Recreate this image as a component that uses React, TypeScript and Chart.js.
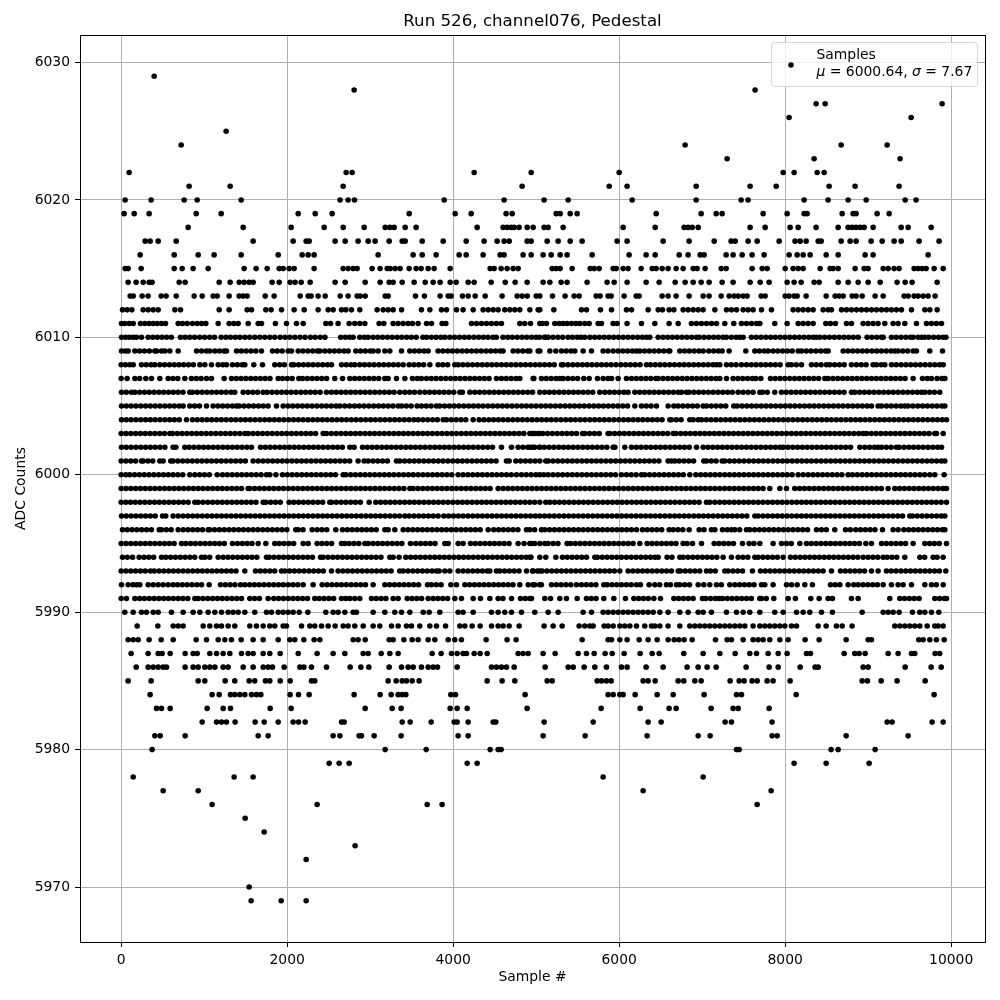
import React, { useEffect, useRef } from "react";
import { Chart, registerables } from "chart.js";

Chart.register(...registerables);

const chartTitle = "Run 526, channel076, Pedestal";
const xAxisTitle = "Sample #";
const yAxisTitle = "ADC Counts";
const legendLine1 = "Samples";
const xTicks = [0, 2000, 4000, 6000, 8000, 10000];
const yTicks = [5970, 5980, 5990, 6000, 6010, 6020, 6030];

const s6029 = [398];
const s6028 = [2807, 7638];
const s6027 = [8373, 8482, 9891];
const s6026 = [8048, 9518];
const s6025 = [1265];
const s6024 = [723, 6795, 8675, 9229];
const s6023 = [7301, 8349, 9385];
const s6022 = [96, 2711, 2783, 4253, 4940, 6000, 7976, 8108, 8386, 8470];
const s6021 = [819, 1313, 2675, 4831, 5880, 6096, 6928, 7578, 7892, 8530, 8843, 9373];
const s6020 = [48, 361, 759, 916, 1446, 2638, 2735, 2811, 3892, 4614, 5096, 5386, 6157, 6928, 7470, 7554, 8229, 8518, 8759, 8976, 9446, 9578];
const s6019 = [36, 157, 337, 904, 1205, 2133, 2338, 2542, 3470, 4024, 4217, 4638, 4711, 5241, 5289, 5410, 5494, 6446, 6988, 7169, 7241, 7735, 8024, 8229, 8265, 8687, 8819, 8855, 9108, 9253];
const s6018 = [807, 1470, 2048, 2446, 2675, 2928, 3181, 3237, 3289, 3422, 3554, 4289, 4602, 4650, 4699, 4735, 4795, 4892, 4964, 5096, 5145, 5325, 6048, 6434, 6783, 6831, 6880, 6952, 7578, 7759, 8060, 8157, 8373, 8639, 8759, 8807, 8855, 8904, 8952, 9060, 9398, 9482, 9759];
const s6017 = [289, 349, 446, 663, 1590, 2072, 2229, 2265, 2578, 2699, 2855, 2976, 3060, 3229, 3386, 3422, 3627, 3880, 4157, 4373, 4530, 4614, 4675, 4892, 4940, 5133, 5265, 5410, 5554, 5976, 6096, 6530, 6843, 7145, 7349, 7398, 7554, 7663, 7928, 8120, 8181, 8253, 8398, 8434, 8675, 8783, 8855, 9036, 9169, 9313, 9398, 9614, 9855];
const s6016 = [229, 639, 928, 1120, 1446, 1892, 2181, 2253, 2325, 3096, 3518, 3627, 3795, 4072, 4157, 4361, 4566, 4614, 4843, 4940, 5084, 5181, 5289, 5373, 5675, 6120, 6325, 6434, 6723, 6831, 6976, 7024, 7289, 7373, 7482, 7602, 7747, 8048, 8145, 8217, 8301, 8494, 8639, 8964, 9060, 9723];
const s6015 = [48, 84, 241, 639, 735, 867, 1048, 1482, 1626, 1759, 1904, 1952, 2024, 2084, 2325, 2675, 2735, 2795, 2843, 3024, 3120, 3205, 3241, 3301, 3361, 3470, 3554, 3614, 3699, 3771, 3964, 4446, 4494, 4578, 4650, 4723, 4783, 5193, 5241, 5289, 5434, 5651, 5699, 5759, 5928, 5964, 6048, 6108, 6265, 6398, 6446, 6518, 6590, 6687, 6771, 6892, 6940, 7036, 7229, 7289, 7602, 7723, 7783, 8000, 8096, 8157, 8217, 8422, 8542, 8578, 8639, 8843, 8952, 9000, 9181, 9241, 9313, 9373, 9554, 9602, 9651, 9699, 9795, 9904];
const s6014 = [84, 180, 265, 337, 373, 699, 771, 1181, 1313, 1422, 1482, 1542, 1590, 1819, 1904, 2036, 2096, 2169, 2277, 2578, 2699, 2940, 3120, 3229, 3277, 3386, 3530, 3663, 3759, 3843, 3964, 4036, 4181, 4253, 4458, 4627, 4747, 4892, 5084, 5165, 5301, 5373, 5614, 5855, 5940, 6096, 6325, 6482, 6675, 6795, 6892, 6988, 7084, 7241, 7373, 7578, 7699, 7807, 8024, 8108, 8193, 8349, 8410, 8639, 8759, 8880, 9000, 9145, 9349, 9446, 9530, 9831];
const s6013 = [108, 145, 253, 325, 482, 542, 663, 880, 976, 1108, 1157, 1301, 1422, 1470, 1518, 1735, 1843, 2157, 2253, 2289, 2373, 2458, 2639, 2735, 2843, 2880, 2940, 3181, 3217, 3546, 3654, 3843, 3940, 3976, 4112, 4181, 4265, 4386, 4590, 4771, 4831, 4892, 5000, 5044, 5197, 5349, 5458, 5518, 5723, 5771, 5867, 5904, 6060, 6205, 6241, 6518, 6590, 6687, 6843, 7012, 7084, 7229, 7325, 7386, 7434, 7494, 7542, 7711, 7759, 8000, 8048, 8108, 8145, 8253, 8494, 8602, 8651, 8699, 8807, 8855, 8928, 9084, 9181, 9434, 9482, 9554, 9602, 9663, 9723, 9807];
const s6012 = [16, 72, 129, 265, 325, 386, 446, 647, 715, 1181, 1301, 1518, 1570, 1743, 1807, 1932, 2084, 2205, 2373, 2494, 2554, 2655, 2707, 2775, 2875, 3084, 3157, 3217, 3277, 3378, 3618, 3719, 3859, 3920, 4040, 4120, 4241, 4361, 4422, 4482, 4542, 4622, 4683, 4743, 4803, 4924, 5024, 5044, 5213, 5546, 5606, 5775, 5908, 6088, 6149, 6349, 6470, 6522, 6602, 6659, 6771, 6831, 6892, 6952, 7012, 7153, 7293, 7353, 7414, 7494, 7554, 7614, 7715, 7835, 8096, 8157, 8217, 8277, 8337, 8458, 8518, 8558, 8679, 8739, 8799, 8860, 8920, 8980, 9040, 9100, 9161, 9221, 9281, 9341, 9402, 9522, 9683, 9743, 9831];
const s6011 = [4, 44, 96, 145, 233, 285, 337, 386, 434, 486, 534, 687, 739, 795, 859, 916, 968, 1020, 1169, 1301, 1357, 1410, 1530, 1651, 1691, 1859, 1992, 2112, 2193, 2466, 2522, 2614, 2747, 2815, 2875, 2936, 3108, 3165, 3277, 3337, 3398, 3458, 3510, 3578, 3679, 3739, 3867, 3912, 4221, 4281, 4341, 4402, 4462, 4522, 4582, 4803, 4863, 4932, 5044, 5076, 5124, 5225, 5277, 5325, 5373, 5426, 5478, 5526, 5586, 5639, 5747, 5787, 5928, 5976, 6096, 6269, 6430, 6602, 6711, 6871, 6932, 6992, 7052, 7112, 7173, 7273, 7381, 7474, 7534, 7594, 7655, 7695, 7875, 8024, 8157, 8217, 8277, 8337, 8490, 8546, 8606, 8739, 8799, 8940, 9000, 9060, 9120, 9201, 9301, 9361, 9442, 9582, 9703, 9763, 9823, 9884];
const s6010 = [4, 52, 98, 145, 185, 245, 325, 381, 437, 492, 548, 605, 715, 771, 826, 884, 945, 1005, 1066, 1125, 1205, 1263, 1318, 1377, 1431, 1490, 1548, 1610, 1670, 1730, 1791, 1850, 1915, 1974, 2032, 2093, 2155, 2215, 2280, 2337, 2398, 2455, 2645, 2700, 2752, 2795, 2875, 2930, 2975, 3035, 3092, 3150, 3209, 3266, 3325, 3381, 3440, 3497, 3555, 3635, 3680, 3738, 3795, 3852, 3900, 3960, 4018, 4077, 4135, 4190, 4250, 4308, 4365, 4420, 4480, 4520, 4600, 4658, 4713, 4772, 4830, 4887, 4945, 5000, 5040, 5098, 5116, 5145, 5203, 5262, 5320, 5385, 5438, 5494, 5540, 5586, 5647, 5705, 5762, 5820, 5878, 5935, 5992, 6049, 6108, 6165, 6224, 6280, 6329, 6369, 6470, 6528, 6585, 6642, 6700, 6758, 6816, 6874, 6932, 6964, 7022, 7080, 7138, 7195, 7252, 7293, 7353, 7410, 7455, 7494, 7594, 7652, 7710, 7768, 7825, 7882, 7940, 7998, 8055, 8113, 8170, 8228, 8285, 8340, 8378, 8418, 8476, 8534, 8592, 8650, 8708, 8765, 8822, 8880, 8988, 9045, 9103, 9160, 9181, 9281, 9338, 9396, 9454, 9510, 9542, 9602, 9643, 9683, 9731, 9790, 9848, 9900, 9936];
const s6009 = [4, 50, 84, 165, 222, 280, 340, 405, 426, 486, 526, 586, 687, 908, 968, 1028, 1068, 1129, 1186, 1240, 1269, 1390, 1448, 1506, 1565, 1623, 1691, 1823, 1880, 1940, 2012, 2052, 2133, 2190, 2250, 2308, 2365, 2394, 2454, 2512, 2570, 2628, 2686, 2735, 2827, 2884, 2942, 3000, 3036, 3096, 3177, 3237, 3378, 3478, 3535, 3593, 3650, 3699, 3819, 3877, 3935, 3992, 4050, 4108, 4165, 4222, 4280, 4338, 4396, 4453, 4510, 4568, 4602, 4723, 4780, 4838, 4896, 4924, 5024, 5044, 5165, 5237, 5305, 5362, 5420, 5466, 5566, 5667, 5807, 5865, 5928, 5988, 6044, 6102, 6160, 6209, 6249, 6306, 6364, 6422, 6480, 6538, 6596, 6610, 6731, 6788, 6846, 6904, 6962, 7012, 7080, 7138, 7195, 7241, 7325, 7526, 7635, 7690, 7748, 7795, 7855, 7912, 7970, 8028, 8085, 8157, 8197, 8255, 8312, 8370, 8428, 8486, 8518, 8699, 8756, 8814, 8872, 8930, 8987, 9045, 9102, 9160, 9218, 9276, 9321, 9361, 9418, 9476, 9542, 9582, 9743, 9896];
const s6008 = [0, 52, 104, 145, 245, 302, 360, 405, 466, 523, 581, 640, 697, 754, 812, 870, 948, 1008, 1088, 1169, 1226, 1269, 1341, 1400, 1458, 1490, 1598, 1703, 1851, 1909, 1966, 2052, 2080, 2138, 2196, 2254, 2312, 2370, 2428, 2486, 2534, 2655, 2712, 2770, 2815, 2875, 2933, 2990, 3048, 3106, 3164, 3222, 3280, 3338, 3398, 3470, 3528, 3586, 3644, 3719, 3819, 3876, 3934, 4020, 4060, 4118, 4176, 4234, 4292, 4350, 4408, 4466, 4524, 4582, 4640, 4698, 4756, 4814, 4872, 4930, 4988, 5044, 5102, 5160, 5218, 5305, 5325, 5383, 5441, 5499, 5557, 5615, 5672, 5730, 5788, 5846, 5904, 5962, 6020, 6078, 6136, 6194, 6252, 6329, 6377, 6435, 6493, 6551, 6609, 6667, 6725, 6783, 6841, 6899, 6957, 7015, 7073, 7131, 7173, 7213, 7293, 7351, 7409, 7474, 7534, 7592, 7650, 7708, 7766, 7824, 7882, 7940, 8036, 8076, 8134, 8197, 8317, 8375, 8433, 8498, 8538, 8596, 8654, 8712, 8799, 8859, 8917, 8975, 9060, 9100, 9158, 9201, 9281, 9339, 9397, 9455, 9513, 9571, 9629, 9687, 9745, 9803, 9861, 9904];
const s6007 = [0, 72, 165, 223, 297, 365, 466, 566, 624, 682, 767, 847, 905, 963, 1028, 1088, 1241, 1329, 1387, 1445, 1503, 1561, 1619, 1677, 1735, 1793, 1892, 1944, 2002, 2060, 2141, 2185, 2243, 2301, 2359, 2417, 2475, 2574, 2667, 2755, 2813, 2871, 2929, 2987, 3045, 3103, 3177, 3217, 3317, 3418, 3510, 3568, 3618, 3679, 3737, 3795, 3853, 3911, 3969, 4027, 4085, 4143, 4201, 4259, 4317, 4375, 4433, 4522, 4582, 4640, 4698, 4756, 4803, 4972, 4964, 5064, 5122, 5180, 5238, 5285, 5325, 5383, 5441, 5499, 5574, 5639, 5739, 5807, 5865, 5908, 5988, 6088, 6149, 6207, 6265, 6323, 6381, 6442, 6470, 6528, 6586, 6644, 6702, 6760, 6818, 6876, 6934, 6992, 7050, 7108, 7166, 7213, 7293, 7373, 7431, 7489, 7547, 7605, 7647, 7707, 7823, 7881, 7939, 7997, 8055, 8113, 8171, 8229, 8287, 8345, 8403, 8478, 8518, 8576, 8634, 8692, 8750, 8808, 8866, 8924, 8982, 9040, 9098, 9156, 9214, 9272, 9330, 9388, 9446, 9542, 9655, 9713, 9763, 9831, 9889, 9924];
const s6006 = [4, 62, 124, 165, 223, 281, 339, 397, 455, 513, 571, 629, 687, 745, 827, 859, 917, 975, 1033, 1091, 1149, 1207, 1265, 1323, 1369, 1470, 1528, 1586, 1644, 1711, 1759, 1817, 1875, 1933, 1991, 2049, 2107, 2165, 2223, 2281, 2339, 2397, 2474, 2534, 2592, 2650, 2708, 2766, 2824, 2882, 2940, 2998, 3056, 3114, 3172, 3230, 3288, 3357, 3418, 3476, 3534, 3598, 3659, 3717, 3775, 3833, 3891, 3949, 4007, 4080, 4112, 4201, 4261, 4319, 4377, 4435, 4493, 4551, 4609, 4667, 4725, 4783, 4841, 4899, 4957, 5044, 5102, 5160, 5218, 5276, 5334, 5392, 5450, 5508, 5566, 5624, 5682, 5767, 5827, 5885, 5943, 6001, 6059, 6108, 6189, 6247, 6305, 6363, 6421, 6479, 6537, 6595, 6653, 6711, 6751, 6811, 6843, 6901, 6959, 7017, 7075, 7133, 7191, 7249, 7307, 7365, 7434, 7494, 7554, 7614, 7695, 7727, 7785, 7875, 7956, 8014, 8072, 8130, 8188, 8246, 8304, 8362, 8420, 8478, 8536, 8594, 8652, 8710, 8799, 8839, 8897, 8955, 9013, 9071, 9129, 9187, 9245, 9303, 9361, 9419, 9477, 9535, 9593, 9643, 9683, 9741, 9799, 9863];
const s6005 = [4, 62, 120, 178, 236, 294, 352, 410, 468, 526, 584, 642, 700, 747, 827, 885, 943, 1028, 1108, 1166, 1224, 1282, 1340, 1390, 1422, 1480, 1538, 1596, 1654, 1712, 1770, 1871, 1952, 2010, 2068, 2126, 2184, 2242, 2300, 2358, 2416, 2474, 2532, 2590, 2634, 2695, 2753, 2811, 2869, 2927, 2985, 3043, 3101, 3159, 3217, 3275, 3337, 3378, 3436, 3494, 3566, 3618, 3676, 3734, 3799, 3839, 3897, 3955, 4013, 4071, 4129, 4187, 4245, 4303, 4361, 4419, 4477, 4535, 4593, 4651, 4709, 4767, 4825, 4883, 4941, 4999, 5057, 5115, 5173, 5231, 5289, 5347, 5405, 5463, 5521, 5579, 5637, 5695, 5753, 5811, 5869, 5927, 5985, 6043, 6101, 6189, 6269, 6327, 6385, 6450, 6590, 6659, 6711, 6769, 6827, 6885, 6943, 7012, 7052, 7110, 7168, 7226, 7284, 7381, 7422, 7480, 7538, 7596, 7654, 7712, 7770, 7828, 7886, 7944, 8002, 8060, 8118, 8176, 8234, 8292, 8350, 8408, 8466, 8524, 8582, 8640, 8698, 8756, 8814, 8872, 8930, 8988, 9040, 9120, 9161, 9221, 9279, 9337, 9395, 9442, 9482, 9540, 9598, 9656, 9714, 9772, 9830, 9888, 9924];
const s6004 = [4, 62, 120, 178, 236, 294, 352, 410, 468, 526, 584, 642, 700, 787, 859, 917, 975, 1033, 1091, 1149, 1207, 1265, 1323, 1381, 1439, 1497, 1555, 1613, 1671, 1729, 1787, 1845, 1903, 1961, 2019, 2077, 2135, 2193, 2251, 2309, 2367, 2425, 2483, 2541, 2599, 2657, 2715, 2773, 2831, 2889, 2947, 3005, 3063, 3121, 3179, 3237, 3295, 3353, 3411, 3469, 3527, 3578, 3636, 3694, 3752, 3810, 3880, 3920, 3978, 4036, 4094, 4152, 4241, 4313, 4371, 4429, 4487, 4545, 4603, 4661, 4719, 4777, 4835, 4893, 4951, 5009, 5067, 5125, 5183, 5241, 5299, 5357, 5415, 5473, 5531, 5589, 5647, 5705, 5763, 5821, 5879, 5937, 5995, 6053, 6111, 6169, 6227, 6285, 6343, 6401, 6459, 6517, 6610, 6631, 6689, 6747, 6851, 6892, 6952, 6992, 7050, 7108, 7166, 7224, 7282, 7340, 7398, 7456, 7514, 7572, 7630, 7688, 7746, 7804, 7862, 7920, 7978, 8036, 8094, 8152, 8210, 8268, 8326, 8384, 8442, 8500, 8558, 8616, 8674, 8732, 8790, 8848, 8906, 8964, 9022, 9080, 9138, 9196, 9254, 9312, 9370, 9428, 9486, 9544, 9602, 9660, 9718, 9776, 9834, 9892, 9944];
const s6003 = [0, 58, 116, 174, 232, 290, 348, 406, 464, 522, 586, 618, 676, 734, 792, 850, 908, 966, 1024, 1082, 1140, 1198, 1256, 1314, 1372, 1430, 1490, 1530, 1588, 1646, 1704, 1762, 1820, 1878, 1936, 1994, 2052, 2110, 2168, 2226, 2284, 2342, 2434, 2474, 2532, 2590, 2648, 2706, 2764, 2822, 2880, 2938, 2996, 3054, 3112, 3170, 3228, 3286, 3344, 3402, 3460, 3518, 3576, 3634, 3692, 3750, 3808, 3866, 3924, 3982, 4040, 4098, 4156, 4214, 4272, 4330, 4388, 4446, 4504, 4562, 4620, 4678, 4736, 4794, 4852, 4944, 4984, 5044, 4924, 4964, 5022, 5080, 5138, 5196, 5254, 5312, 5370, 5428, 5486, 5558, 5586, 5644, 5702, 5760, 5867, 5888, 5946, 6004, 6062, 6120, 6178, 6236, 6294, 6352, 6410, 6468, 6526, 6584, 6651, 6683, 6741, 6799, 6857, 6915, 6973, 7031, 7089, 7147, 7205, 7263, 7321, 7379, 7437, 7495, 7553, 7611, 7669, 7727, 7785, 7843, 7901, 7959, 8017, 8075, 8133, 8191, 8249, 8307, 8365, 8423, 8481, 8539, 8597, 8655, 8713, 8771, 8829, 8887, 8940, 8980, 9038, 9096, 9154, 9212, 9270, 9328, 9386, 9444, 9502, 9560, 9618, 9676, 9734, 9803, 9823, 9904];
const s6002 = [4, 62, 120, 178, 236, 294, 352, 410, 468, 526, 626, 659, 767, 819, 877, 935, 993, 1051, 1109, 1167, 1225, 1283, 1341, 1399, 1457, 1515, 1570, 1679, 1737, 1795, 1853, 1911, 1969, 2027, 2085, 2143, 2201, 2259, 2317, 2375, 2433, 2491, 2549, 2607, 2665, 2755, 2807, 2908, 2966, 3024, 3082, 3140, 3198, 3256, 3314, 3372, 3430, 3488, 3546, 3604, 3662, 3720, 3778, 3836, 3894, 3952, 4010, 4068, 4126, 4184, 4242, 4300, 4358, 4416, 4474, 4582, 4703, 4783, 4841, 4899, 4957, 5044, 4924, 4982, 5040, 5098, 5156, 5214, 5272, 5330, 5388, 5446, 5504, 5562, 5620, 5678, 5736, 5794, 5852, 5928, 5948, 6068, 6149, 6207, 6265, 6323, 6381, 6439, 6497, 6555, 6613, 6671, 6729, 6787, 6845, 6932, 7012, 7070, 7128, 7186, 7244, 7302, 7360, 7418, 7476, 7534, 7592, 7650, 7708, 7766, 7824, 7882, 7936, 7976, 8034, 8092, 8150, 8208, 8266, 8324, 8382, 8440, 8498, 8556, 8614, 8672, 8730, 8788, 8900, 8960, 9018, 9076, 9120, 9161, 9219, 9277, 9341, 9373, 9431, 9489, 9547, 9605, 9663, 9721, 9779, 9837, 9884];
const s6001 = [0, 58, 116, 174, 245, 265, 323, 381, 466, 506, 598, 626, 684, 742, 800, 858, 916, 974, 1032, 1090, 1148, 1206, 1264, 1322, 1380, 1438, 1496, 1590, 1651, 1709, 1767, 1825, 1883, 1941, 1999, 2057, 2115, 2173, 2231, 2289, 2347, 2405, 2463, 2521, 2579, 2637, 2695, 2753, 2855, 2928, 2976, 3034, 3092, 3150, 3208, 3317, 3357, 3415, 3473, 3531, 3589, 3647, 3705, 3763, 3821, 3879, 3937, 3995, 4053, 4111, 4169, 4227, 4285, 4343, 4401, 4459, 4517, 4642, 4675, 4755, 4813, 4871, 4929, 4987, 5044, 5116, 5145, 5203, 5261, 5319, 5377, 5435, 5493, 5551, 5609, 5667, 5725, 5783, 5841, 5899, 5957, 6015, 6073, 6131, 6189, 6247, 6305, 6363, 6421, 6479, 6590, 6631, 6671, 6723, 6781, 6839, 6897, 7020, 7052, 7110, 7168, 7241, 7273, 7331, 7389, 7447, 7505, 7563, 7621, 7679, 7737, 7795, 7853, 7911, 7969, 8027, 8085, 8143, 8201, 8259, 8317, 8375, 8433, 8491, 8549, 8607, 8665, 8723, 8781, 8839, 8897, 8955, 9013, 9071, 9129, 9187, 9245, 9303, 9361, 9419, 9477, 9535, 9593, 9651, 9709, 9767, 9825, 9883, 9924];
const s6000 = [0, 56, 104, 162, 220, 278, 336, 394, 452, 510, 568, 626, 684, 742, 827, 888, 946, 1004, 1062, 1157, 1221, 1279, 1337, 1395, 1453, 1511, 1569, 1627, 1685, 1751, 1791, 1864, 1944, 2002, 2060, 2118, 2176, 2234, 2292, 2350, 2408, 2466, 2524, 2582, 2675, 2707, 2765, 2823, 2881, 2939, 2997, 3055, 3113, 3171, 3229, 3287, 3345, 3403, 3461, 3519, 3577, 3635, 3693, 3751, 3809, 3867, 3925, 3983, 4060, 4120, 4178, 4236, 4294, 4352, 4410, 4468, 4526, 4584, 4642, 4700, 4763, 4823, 4881, 4939, 4997, 5044, 5092, 5145, 5203, 5261, 5319, 5377, 5435, 5493, 5551, 5609, 5667, 5725, 5783, 5841, 5899, 5957, 6028, 6088, 6146, 6204, 6269, 6309, 6367, 6425, 6483, 6541, 6599, 6657, 6715, 6773, 6851, 6924, 6982, 7040, 7098, 7156, 7214, 7272, 7330, 7388, 7446, 7504, 7562, 7620, 7678, 7736, 7794, 7852, 7910, 7968, 8026, 8084, 8157, 8217, 8277, 8335, 8393, 8451, 8509, 8567, 8625, 8683, 8759, 8811, 8869, 8927, 8985, 9043, 9101, 9159, 9217, 9275, 9333, 9391, 9449, 9507, 9565, 9623, 9681, 9743, 9803, 9916];
const s5999 = [0, 58, 116, 174, 232, 290, 348, 406, 464, 522, 580, 638, 696, 754, 812, 870, 928, 986, 1044, 1102, 1160, 1218, 1276, 1334, 1392, 1450, 1530, 1550, 1608, 1666, 1724, 1782, 1840, 1898, 1956, 2014, 2072, 2130, 2188, 2246, 2304, 2362, 2420, 2478, 2536, 2594, 2652, 2710, 2768, 2826, 2884, 2942, 3000, 3058, 3116, 3174, 3232, 3290, 3348, 3406, 3478, 3518, 3576, 3634, 3692, 3750, 3808, 3866, 3924, 3982, 4040, 4098, 4156, 4214, 4272, 4330, 4388, 4446, 4542, 4602, 4660, 4718, 4776, 4834, 4892, 4950, 5008, 5066, 5124, 5182, 5240, 5298, 5356, 5414, 5472, 5530, 5588, 5646, 5704, 5762, 5820, 5878, 5936, 5994, 6052, 6110, 6168, 6226, 6284, 6342, 6400, 6458, 6516, 6574, 6632, 6690, 6748, 6806, 6864, 6922, 6980, 7038, 7096, 7154, 7212, 7270, 7328, 7386, 7444, 7502, 7560, 7618, 7676, 7734, 7815, 7936, 8016, 8116, 8174, 8232, 8290, 8348, 8406, 8464, 8522, 8580, 8638, 8696, 8754, 8812, 8870, 8928, 8986, 9044, 9102, 9160, 9241, 9321, 9379, 9437, 9495, 9553, 9611, 9669, 9727, 9785, 9843, 9901, 9944];
const s5998 = [0, 56, 112, 170, 228, 286, 344, 402, 460, 518, 576, 634, 692, 750, 808, 888, 928, 986, 1044, 1102, 1160, 1218, 1276, 1334, 1392, 1450, 1508, 1566, 1624, 1711, 1743, 1801, 1859, 1917, 2024, 2080, 2138, 2196, 2254, 2312, 2370, 2428, 2514, 2534, 2592, 2650, 2708, 2766, 2824, 2882, 2988, 3068, 3126, 3184, 3242, 3300, 3358, 3416, 3474, 3532, 3590, 3648, 3706, 3764, 3822, 3880, 3938, 3996, 4054, 4112, 4170, 4228, 4286, 4344, 4402, 4460, 4518, 4576, 4634, 4692, 4750, 4808, 4866, 4924, 4982, 5044, 5116, 5165, 5223, 5281, 5339, 5397, 5455, 5513, 5571, 5629, 5687, 5745, 5803, 5861, 5919, 5977, 6035, 6093, 6151, 6209, 6267, 6325, 6383, 6441, 6499, 6557, 6615, 6673, 6731, 6789, 6847, 6905, 6963, 7052, 7092, 7153, 7211, 7269, 7327, 7385, 7443, 7501, 7559, 7617, 7675, 7733, 7791, 7849, 7907, 7965, 8023, 8081, 8139, 8197, 8255, 8313, 8371, 8429, 8487, 8545, 8603, 8661, 8719, 8777, 8835, 8893, 8951, 9009, 9067, 9125, 9183, 9241, 9299, 9357, 9415, 9473, 9531, 9589, 9647, 9705, 9763, 9821, 9879, 9944];
const s5997 = [4, 62, 120, 178, 236, 294, 352, 410, 498, 538, 626, 687, 745, 803, 861, 919, 977, 1035, 1093, 1151, 1209, 1267, 1325, 1383, 1441, 1499, 1557, 1615, 1673, 1731, 1789, 1847, 1905, 1963, 2021, 2079, 2137, 2195, 2253, 2311, 2369, 2427, 2485, 2543, 2601, 2659, 2717, 2775, 2833, 2891, 2949, 3007, 3065, 3123, 3181, 3239, 3297, 3355, 3418, 3470, 3528, 3586, 3644, 3702, 3760, 3819, 3888, 3946, 4004, 4062, 4120, 4178, 4236, 4294, 4352, 4410, 4468, 4526, 4584, 4642, 4700, 4758, 4816, 4874, 4932, 4990, 5044, 5102, 5160, 5218, 5276, 5334, 5392, 5450, 5508, 5566, 5624, 5682, 5740, 5798, 5856, 5914, 5972, 6030, 6088, 6146, 6204, 6262, 6320, 6378, 6436, 6494, 6552, 6610, 6668, 6726, 6784, 6842, 6900, 6958, 7016, 7074, 7132, 7190, 7248, 7306, 7364, 7422, 7480, 7538, 7635, 7675, 7733, 7791, 7849, 7907, 7965, 8023, 8081, 8139, 8197, 8255, 8313, 8371, 8429, 8487, 8545, 8603, 8661, 8719, 8777, 8835, 8893, 8951, 9009, 9067, 9125, 9183, 9241, 9299, 9357, 9415, 9502, 9534, 9592, 9650, 9708, 9766, 9824, 9882, 9924];
const s5996 = [16, 74, 132, 190, 248, 306, 364, 458, 486, 544, 602, 687, 747, 805, 863, 921, 979, 1048, 1068, 1126, 1184, 1242, 1300, 1358, 1416, 1474, 1532, 1590, 1648, 1706, 1764, 1822, 1880, 1938, 1996, 2104, 2133, 2191, 2301, 2361, 2419, 2477, 2586, 2667, 2725, 2783, 2841, 2899, 2957, 3015, 3073, 3177, 3217, 3297, 3398, 3456, 3514, 3572, 3630, 3688, 3746, 3804, 3862, 3920, 3978, 4036, 4094, 4152, 4210, 4268, 4326, 4422, 4490, 4548, 4606, 4664, 4722, 4780, 4884, 4924, 4982, 5064, 5104, 5162, 5220, 5278, 5336, 5394, 5452, 5510, 5568, 5626, 5684, 5742, 5800, 5858, 5916, 5974, 6032, 6090, 6148, 6209, 6281, 6339, 6397, 6455, 6513, 6602, 6651, 6709, 6767, 6843, 6964, 7022, 7112, 7153, 7245, 7303, 7353, 7394, 7452, 7534, 7574, 7632, 7690, 7748, 7806, 7864, 7922, 7980, 8038, 8096, 8154, 8212, 8270, 8378, 8438, 8496, 8598, 8727, 8785, 8851, 8908, 8966, 9024, 9082, 9173, 9301, 9361, 9430, 9488, 9546, 9604, 9662, 9720, 9778, 9836, 9894, 9924];
const s5995 = [0, 58, 116, 174, 232, 290, 348, 406, 464, 522, 580, 638, 727, 779, 837, 895, 953, 1011, 1069, 1127, 1185, 1243, 1341, 1402, 1460, 1518, 1576, 1651, 1743, 1851, 1904, 1962, 2020, 2078, 2193, 2253, 2361, 2419, 2477, 2535, 2655, 2695, 2747, 2805, 2863, 2936, 2976, 3034, 3092, 3150, 3208, 3266, 3324, 3382, 3486, 3550, 3608, 3666, 3724, 3782, 3900, 3940, 4060, 4120, 4209, 4267, 4325, 4383, 4441, 4499, 4557, 4615, 4673, 4783, 4855, 4944, 5044, 4924, 4982, 5104, 5145, 5205, 5263, 5373, 5414, 5472, 5530, 5588, 5646, 5704, 5762, 5820, 5878, 5936, 5994, 6052, 6110, 6168, 6249, 6337, 6395, 6453, 6511, 6569, 6627, 6685, 6771, 6819, 6884, 6992, 7145, 7203, 7261, 7319, 7377, 7486, 7566, 7624, 7695, 7855, 7956, 8016, 8074, 8177, 8257, 8315, 8373, 8431, 8489, 8547, 8605, 8663, 8721, 8779, 8837, 8895, 8972, 9040, 9161, 9219, 9277, 9335, 9393, 9451, 9542, 9683, 9741, 9799, 9857, 9944];
const s5994 = [16, 74, 137, 217, 275, 333, 391, 486, 538, 596, 654, 712, 770, 828, 886, 968, 1008, 1066, 1169, 1229, 1287, 1345, 1403, 1461, 1519, 1577, 1635, 1751, 1783, 1841, 1899, 1957, 2015, 2073, 2131, 2189, 2247, 2305, 2402, 2434, 2492, 2550, 2608, 2666, 2724, 2782, 2840, 2898, 2956, 3014, 3072, 3130, 3237, 3277, 3349, 3430, 3488, 3546, 3604, 3662, 3720, 3778, 3836, 3894, 3952, 4010, 4068, 4126, 4184, 4242, 4300, 4358, 4416, 4474, 4532, 4590, 4648, 4706, 4764, 4822, 4880, 4938, 5044, 4924, 5116, 5237, 5317, 5375, 5433, 5491, 5549, 5607, 5707, 5739, 5797, 5855, 5913, 5971, 6028, 6088, 6146, 6204, 6262, 6320, 6378, 6430, 6470, 6578, 6636, 6731, 6771, 6829, 6887, 6945, 7003, 7061, 7119, 7177, 7253, 7353, 7434, 7492, 7550, 7635, 7675, 7733, 7791, 7849, 7907, 7976, 8064, 8122, 8180, 8238, 8296, 8354, 8412, 8470, 8528, 8586, 8644, 8702, 8760, 8818, 8876, 8940, 9000, 9058, 9116, 9181, 9229, 9287, 9345, 9442, 9623, 9681, 9783, 9831, 9904];
const s5993 = [0, 58, 116, 174, 232, 290, 353, 398, 456, 514, 572, 630, 688, 746, 804, 862, 920, 978, 1036, 1094, 1152, 1210, 1268, 1326, 1384, 1490, 1618, 1676, 1734, 1792, 1850, 1932, 1972, 2030, 2088, 2146, 2204, 2262, 2320, 2378, 2436, 2534, 2614, 2672, 2730, 2788, 2846, 2904, 2962, 3020, 3078, 3136, 3194, 3252, 3357, 3398, 3456, 3514, 3572, 3630, 3688, 3746, 3799, 3831, 3900, 3960, 4060, 4120, 4178, 4236, 4294, 4352, 4410, 4442, 4522, 4562, 4620, 4678, 4736, 4794, 4884, 4964, 5044, 4956, 5014, 5072, 5130, 5188, 5246, 5304, 5362, 5420, 5478, 5536, 5594, 5652, 5710, 5768, 5826, 5884, 5942, 6008, 6108, 6166, 6224, 6282, 6340, 6398, 6456, 6514, 6572, 6630, 6711, 6739, 6797, 6855, 6913, 6971, 7052, 7100, 7158, 7273, 7313, 7371, 7429, 7487, 7606, 7703, 7761, 7819, 7877, 7935, 7993, 8051, 8109, 8167, 8225, 8283, 8341, 8399, 8457, 8558, 8667, 8725, 8783, 8841, 8899, 8957, 9040, 9120, 9221, 9279, 9337, 9395, 9453, 9511, 9569, 9627, 9685, 9743, 9801, 9859, 9936];
const s5992 = [4, 84, 142, 185, 225, 325, 386, 446, 506, 566, 626, 679, 737, 795, 853, 911, 969, 1060, 1197, 1255, 1313, 1371, 1438, 1490, 1548, 1606, 1664, 1722, 1780, 1838, 1896, 1954, 2012, 2070, 2128, 2193, 2313, 2422, 2480, 2538, 2596, 2654, 2712, 2770, 2828, 2886, 2944, 3036, 3177, 3235, 3293, 3351, 3409, 3467, 3525, 3583, 3691, 3739, 3797, 3855, 3972, 4040, 4141, 4199, 4257, 4315, 4373, 4431, 4489, 4547, 4605, 4663, 4721, 4803, 4904, 4962, 5044, 4984, 5064, 5185, 5243, 5301, 5359, 5417, 5486, 5546, 5604, 5662, 5720, 5815, 5855, 5913, 5971, 6029, 6087, 6145, 6209, 6257, 6361, 6430, 6488, 6570, 6618, 6691, 6731, 6789, 6847, 6952, 7020, 7092, 7173, 7231, 7333, 7394, 7452, 7510, 7568, 7626, 7715, 7755, 7855, 8016, 8076, 8145, 8237, 8329, 8546, 8604, 8659, 8759, 8827, 8880, 8938, 8996, 9054, 9112, 9181, 9281, 9361, 9422, 9522, 9683, 9763, 9821, 9904];
const s5991 = [0, 64, 165, 223, 281, 339, 397, 455, 513, 571, 629, 687, 745, 803, 888, 928, 986, 1044, 1102, 1160, 1218, 1276, 1334, 1392, 1450, 1550, 1608, 1666, 1771, 1839, 1897, 1955, 2013, 2071, 2129, 2187, 2245, 2333, 2386, 2444, 2502, 2560, 2655, 2707, 2755, 2815, 2875, 3016, 3074, 3132, 3190, 3277, 3337, 3446, 3504, 3562, 3620, 3699, 3759, 3817, 3875, 3933, 4020, 4100, 4241, 4329, 4442, 4542, 4600, 4703, 4811, 4869, 4944, 4924, 5104, 5173, 5285, 5365, 5494, 5606, 5664, 5722, 5815, 5936, 6076, 6177, 6235, 6293, 6351, 6418, 6498, 6659, 6717, 6775, 6833, 6891, 7004, 7044, 7102, 7160, 7205, 7245, 7303, 7361, 7419, 7477, 7535, 7593, 7695, 7715, 7773, 7863, 8036, 8124, 8309, 8410, 8518, 8570, 8799, 8880, 9261, 9381, 9439, 9497, 9555, 9614, 9803, 9861, 9919, 9944];
const s5990 = [44, 145, 245, 305, 386, 446, 606, 747, 867, 948, 1048, 1129, 1209, 1289, 1349, 1410, 1490, 1610, 1751, 1811, 1892, 1952, 2012, 2072, 2145, 2249, 2466, 2554, 2614, 2695, 2795, 2835, 3036, 3177, 3297, 3378, 3478, 3639, 3711, 3839, 4060, 4120, 4241, 4462, 4542, 4622, 4703, 4823, 4984, 5145, 5265, 5566, 5667, 5807, 5867, 5928, 5988, 6048, 6108, 6169, 6229, 6289, 6349, 6410, 6490, 6590, 6731, 6831, 6952, 7012, 7112, 7293, 7414, 7494, 7574, 7695, 7875, 7976, 8137, 8217, 8297, 8438, 8570, 8928, 9181, 9241, 9301, 9373, 9534, 9622, 9683, 9763, 9851];
const s5989 = [193, 442, 627, 687, 747, 988, 1068, 1149, 1209, 1289, 1369, 1550, 1630, 1711, 1791, 1851, 1952, 1992, 2173, 2273, 2333, 2414, 2494, 2578, 2675, 2735, 2815, 2916, 3036, 3116, 3257, 3337, 3438, 3498, 3598, 3719, 3799, 3908, 4080, 4141, 4229, 4325, 4462, 4542, 4602, 4675, 4795, 5096, 5205, 5313, 5518, 5586, 5647, 5687, 5819, 5867, 5928, 6008, 6068, 6129, 6209, 6309, 6390, 6430, 6490, 6590, 6731, 6851, 6912, 6972, 7032, 7092, 7153, 7213, 7273, 7333, 7394, 7454, 7514, 7614, 7695, 7755, 7815, 7875, 7936, 7996, 8076, 8137, 8398, 8494, 8618, 8687, 8807, 9321, 9382, 9442, 9502, 9562, 9622, 9711, 9803, 9843, 9904];
const s5988 = [84, 145, 205, 337, 482, 627, 904, 1028, 1169, 1249, 1329, 1446, 1590, 1711, 1892, 2032, 2092, 2201, 2325, 2394, 2795, 2855, 2940, 3229, 3277, 3406, 3506, 3578, 3699, 3779, 3940, 4020, 4100, 4397, 4650, 4759, 5554, 5867, 5908, 6008, 6096, 6241, 6349, 6458, 6590, 6663, 6719, 6783, 6880, 7161, 7301, 7353, 7494, 7614, 7675, 7735, 7815, 7936, 8036, 8241, 8410, 8735, 9000, 9040, 9610, 9663, 9743, 9823, 9916];
const s5987 = [120, 325, 446, 494, 590, 771, 867, 916, 1068, 1149, 1229, 1309, 1450, 1530, 1590, 1711, 1791, 1916, 2133, 2361, 2554, 2695, 2916, 2976, 3133, 3237, 3337, 3747, 3855, 3980, 4048, 4120, 4161, 4253, 4325, 4410, 4783, 4843, 4904, 5084, 5229, 5506, 5606, 5699, 5831, 5916, 6060, 6253, 6398, 6482, 6779, 7012, 7213, 7398, 7574, 7655, 7795, 7916, 8024, 8257, 8305, 8711, 8839, 8892, 8964, 9241, 9361, 9522, 9562, 9807, 9863];
const s5986 = [181, 325, 386, 446, 506, 546, 771, 867, 928, 1008, 1068, 1129, 1229, 1289, 1470, 1590, 1711, 1771, 1823, 1964, 2153, 2201, 2293, 2474, 2759, 2888, 2984, 3229, 3378, 3458, 3518, 3618, 3699, 3759, 3811, 4048, 4462, 4522, 4582, 4642, 4735, 5108, 5386, 5446, 5578, 5707, 5847, 6028, 6096, 6325, 6530, 6819, 6952, 7060, 7169, 7530, 7807, 7916, 8181, 8361, 8398, 8940, 9000, 9446, 9759, 9880];
const s5985 = [84, 361, 928, 1008, 1253, 1369, 1542, 1610, 1739, 1791, 1916, 2036, 2293, 2333, 3217, 3313, 3386, 3438, 3506, 3590, 4410, 4590, 4743, 5133, 5193, 5735, 5787, 5847, 5904, 6289, 6349, 6434, 6711, 6779, 6912, 6988, 7337, 7446, 7506, 7602, 7663, 7783, 7855, 8060, 8928, 8992, 9157, 9349, 9687];
const s5984 = [349, 1096, 1181, 1317, 1369, 1430, 1490, 1570, 1630, 1683, 2036, 2137, 2265, 2807, 3120, 3253, 3337, 3386, 3430, 3972, 4028, 4867, 5867, 5928, 6008, 6048, 6193, 6458, 6651, 7024, 7414, 7474, 8133, 9795];
const s5983 = [426, 486, 590, 1036, 1229, 1317, 1795, 2048, 2940, 3265, 3373, 3964, 4048, 4169, 4891, 5783, 6253, 6602, 6687, 7108, 7373, 7434, 7807];
const s5982 = [976, 1149, 1209, 1269, 1373, 1614, 1723, 1892, 2072, 2137, 2217, 2655, 2687, 3386, 3482, 3735, 4012, 4048, 4181, 4482, 4514, 5096, 5687, 6349, 6506, 7277, 7353, 7843, 9229, 9289, 9771, 9904];
const s5981 = [406, 470, 771, 1651, 1771, 2554, 2635, 2867, 2896, 3048, 3373, 4060, 4181, 5084, 5590, 6337, 6952, 7096, 7843, 7904, 8735, 9482];
const s5980 = [373, 3181, 3675, 4446, 4542, 4578, 7414, 7446, 8554, 8639, 9084];
const s5979 = [2506, 2626, 2747, 4169, 4289, 8108, 8494, 9012];
const s5978 = [145, 1361, 1590, 5807, 7012];
const s5977 = [506, 928, 6289, 7831];
const s5976 = [1096, 2361, 3687, 3867, 7663];
const s5975 = [1494];
const s5974 = [1723];
const s5973 = [2819];
const s5972 = [2229];
const s5970 = [1542];
const s5969 = [1566, 1928, 2229];

const levels: [number, number[]][] = [
  [6029, s6029], [6028, s6028], [6027, s6027], [6026, s6026], [6025, s6025], [6024, s6024], [6023, s6023],
  [6022, s6022], [6021, s6021], [6020, s6020], [6019, s6019], [6018, s6018], [6017, s6017], [6016, s6016],
  [6015, s6015], [6014, s6014], [6013, s6013], [6012, s6012], [6011, s6011], [6010, s6010], [6009, s6009],
  [6008, s6008], [6007, s6007], [6006, s6006], [6005, s6005], [6004, s6004], [6003, s6003], [6002, s6002],
  [6001, s6001], [6000, s6000], [5999, s5999], [5998, s5998], [5997, s5997], [5996, s5996], [5995, s5995],
  [5994, s5994], [5993, s5993], [5992, s5992], [5991, s5991], [5990, s5990], [5989, s5989], [5988, s5988],
  [5987, s5987], [5986, s5986], [5985, s5985], [5984, s5984], [5983, s5983], [5982, s5982], [5981, s5981],
  [5980, s5980], [5979, s5979], [5978, s5978], [5977, s5977], [5976, s5976], [5975, s5975], [5974, s5974],
  [5973, s5973], [5972, s5972], [5970, s5970], [5969, s5969],
];

const FONT = '"DejaVu Sans"';

const framePlugin = {
  id: "frameAndLegend",
  afterDraw(chart: any) {
    const { ctx, chartArea: a } = chart;
    ctx.save();
    ctx.strokeStyle = "#000";
    ctx.lineWidth = 1;
    ctx.strokeRect(a.left + 0.5, a.top + 0.5, a.right - a.left, a.bottom - a.top);

    const x = 771.5, y = 42.5, w = 206, h = 44, r = 3;
    ctx.beginPath();
    ctx.roundRect(x, y, w, h, r);
    ctx.fillStyle = "rgba(255,255,255,0.8)";
    ctx.fill();
    ctx.strokeStyle = "rgba(204,204,204,0.8)";
    ctx.stroke();

    ctx.fillStyle = "#000";
    ctx.beginPath();
    ctx.arc(791, 65, 2.78, 0, Math.PI * 2);
    ctx.fill();

    ctx.textBaseline = "alphabetic";
    ctx.textAlign = "left";
    ctx.font = `13.9px ${FONT}`;
    ctx.fillText(legendLine1, 816.5, 59);
    let tx = 816.5;
    const ty = 76;
    const parts: [string, boolean][] = [["μ", true], [" = 6000.64, ", false], ["σ", true], [" = 7.67", false]];
    for (const [t, italic] of parts) {
      ctx.font = `${italic ? "italic " : ""}13.9px ${FONT}`;
      ctx.fillText(t, tx, ty);
      tx += ctx.measureText(t).width;
    }
    ctx.restore();
  },
};

export default function App() {
  const ref = useRef<HTMLCanvasElement | null>(null);
  useEffect(() => {
    if (!ref.current) return;
    const points = levels.flatMap(([y, xs]) => xs.map((x) => ({ x, y })));
    const chart = new Chart(ref.current, {
      type: "scatter",
      data: {
        datasets: [
          {
            label: legendLine1,
            data: points,
            backgroundColor: "#000",
            borderWidth: 0,
            pointRadius: 2.78,
            pointHoverRadius: 2.78,
          },
        ],
      },
      options: {
        animation: false,
        responsive: false,
        devicePixelRatio: 1,
        layout: { padding: { left: 0, right: 15, top: 0, bottom: 0 } },
        plugins: {
          legend: { display: false },
          tooltip: { enabled: false },
          title: {
            display: true,
            text: chartTitle,
            fullSize: false,
            color: "#000",
            font: { family: FONT, size: 16.67, weight: "normal" },
            padding: { top: 12, bottom: 3 },
          },
        },
        scales: {
          x: {
            type: "linear",
            min: -496,
            max: 10408,
            afterFit: (s: any) => { s.height = 58; },
            afterBuildTicks: (s: any) => { s.ticks = xTicks.map((value) => ({ value })); },
            ticks: { color: "#000", maxRotation: 0, padding: 5, font: { family: FONT, size: 13.9 }, callback: (v: any) => String(v) },
            grid: { color: "#b0b0b0", lineWidth: 1, tickColor: "#000", tickLength: 5 },
            border: { color: "#000", width: 1 },
            title: { display: true, text: xAxisTitle, color: "#000", font: { family: FONT, size: 13.9 }, padding: { top: 0, bottom: 14.5 } },
          },
          y: {
            type: "linear",
            min: 5966,
            max: 6032,
            afterFit: (s: any) => { s.width = 80; },
            afterBuildTicks: (s: any) => { s.ticks = yTicks.map((value) => ({ value })); },
            ticks: { color: "#000", padding: 5, font: { family: FONT, size: 13.9 }, callback: (v: any) => String(v) },
            grid: { color: "#b0b0b0", lineWidth: 1, tickColor: "#000", tickLength: 5 },
            border: { color: "#000", width: 1 },
            title: { display: true, text: yAxisTitle, color: "#000", font: { family: FONT, size: 13.9 }, padding: { top: 13, bottom: 0 } },
          },
        },
      },
      plugins: [framePlugin],
    } as any);
    return () => chart.destroy();
  }, []);
  return (
    <div style={{ position: "absolute", left: 0, top: 0, width: 1000, height: 1000 }}>
      <canvas ref={ref} width={1000} height={1000} style={{ display: "block" }} />
    </div>
  );
}
